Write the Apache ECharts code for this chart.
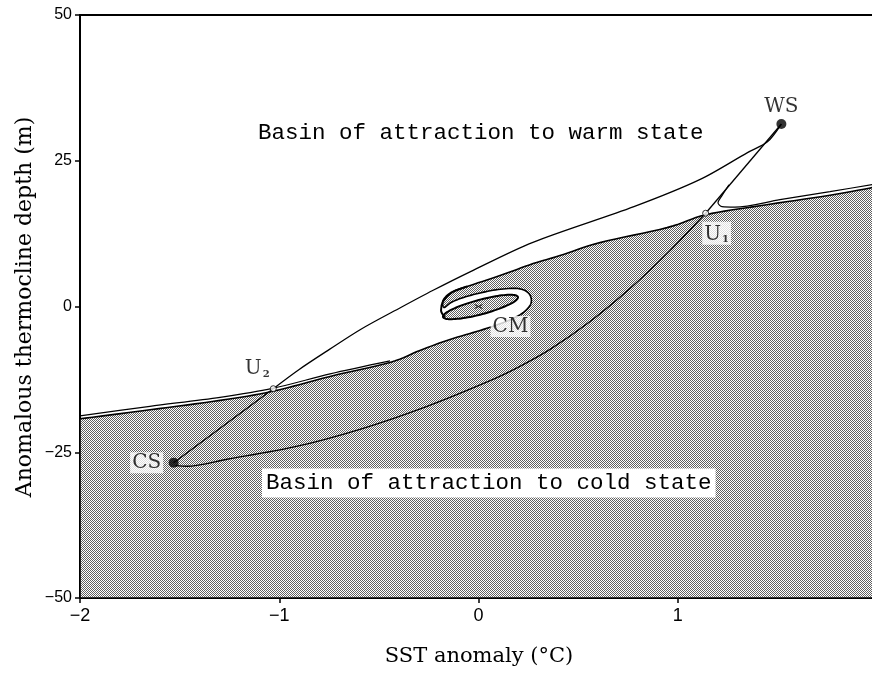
<!DOCTYPE html>
<html>
<head>
<meta charset="utf-8">
<script src="https://cdn.jsdelivr.net/npm/echarts@6/dist/echarts.min.js"></script>
<style>
  html, body { margin: 0; padding: 0; background: #fff; overflow: hidden; }
  #chart { width: 872px; height: 673px; }
</style>
</head>
<body>
<div id="chart"></div>
<script>
// ---- axis ticks ----
const xTicks = [-2, -1, 0, 1];
const yTicks = [-50, -25, 0, 25, 50];

// ---- fixed points of the model (SST anomaly degC, thermocline depth m) ----
const fixedNames = ['WS', 'U1', 'CM', 'U2', 'CS'];
const fixedX = [1.52, 1.14, 0.0, -1.03, -1.53];
const fixedY = [31.3, 16.0, 0.0, -14.1, -26.8];

// ---- separatrix bounding the cold-state basin (left edge -> spiral -> right edge) ----
const coldEdge = [
  [-2.0, -19.26], [-1.649, -17.72], [-1.297, -16.10], [-1.033, -14.55],
  [-0.745, -11.99], [-0.444, -9.59], [-0.294, -7.53], [-0.143, -5.65],
  [0.008, -4.11], [0.133, -2.65], [0.218, -1.20], [0.263, 0.51],
  [0.253, 2.23], [0.198, 3.08], [0.098, 2.91], [-0.003, 2.23],
  [-0.083, 1.46], [-0.138, 0.68], [-0.173, -0.17], [-0.178, 1.03],
  [-0.138, 2.40], [-0.058, 3.42], [0.108, 5.31], [0.274, 7.36],
  [0.409, 8.73], [0.610, 10.96], [0.946, 13.53], [1.142, 15.75],
  [1.413, 17.29], [1.764, 19.09], [2.0, 20.55]
];
// upper trace of the double separatrix line, left of the spiral
const sepUpper = [
  [-2.0, -18.75], [-1.649, -17.12], [-1.297, -15.58], [-1.033, -14.05],
  [-0.745, -11.56], [-0.444, -9.33]
];
// outer arm curling down round the left end of the loop
const outerCurl = [
  [-0.058, 3.42], [-0.133, 2.40], [-0.178, 0.86], [-0.188, -0.68], [-0.168, -1.88]
];
// closed loop around CM
const loopCM = [
  [0.198, 1.63], [0.178, 0.80], [0.112, -0.27], [0.020, -1.30],
  [-0.076, -1.99], [-0.149, -2.17], [-0.178, -1.80], [-0.158, -0.98],
  [-0.092, 0.10], [0.001, 1.11], [0.096, 1.82], [0.169, 2.00]
];

// ---- trajectories ----
const pathU2toWS = [
  [-1.03, -14.1], [-0.90, -10.8], [-0.75, -7.4], [-0.59, -3.9],
  [-0.39, -0.17], [-0.23, 2.74], [-0.04, 5.99], [0.27, 10.96],
  [0.78, 17.12], [1.11, 21.75], [1.35, 26.4], [1.45, 28.25], [1.52, 31.3]
];
const pathWStoU1 = [[1.52, 31.3], [1.14, 16.0]];
const pathHook = [
  [1.257, 20.89], [1.222, 19.01], [1.202, 17.81], [1.222, 17.12],
  [1.287, 17.04], [1.513, 18.32], [1.764, 19.69], [2.0, 21.06]
];
const pathU2toCS = [[-1.03, -14.1], [-1.53, -26.8]];
const pathU1toCS = [
  [1.14, 16.0], [0.961, 9.59], [0.760, 3.08], [0.560, -2.57],
  [0.359, -7.36], [0.208, -10.27], [0.073, -12.50], [-0.258, -17.12],
  [-0.595, -21.06], [-0.931, -24.14], [-1.262, -26.20], [-1.463, -27.40],
  [-1.52, -27.3]
];

// ---- text ----
const xTitle = 'SST anomaly (°C)';
const yTitle = 'Anomalous thermocline depth (m)';
const warmText = 'Basin of attraction to warm state';
const coldText = 'Basin of attraction to cold state';

// fine dot screen for the cold basin
const screen = document.createElement('canvas');
screen.width = 2; screen.height = 2;
const sctx = screen.getContext('2d');
sctx.fillStyle = '#ffffff'; sctx.fillRect(0, 0, 2, 2);
sctx.fillStyle = '#606060'; sctx.fillRect(0, 0, 1, 1); sctx.fillRect(1, 1, 1, 1);
const screenFill = { image: screen, repeat: 'repeat' };

const serif = 'DejaVu Serif';
const sans = 'Liberation Sans';
const minus = v => String(v).replace('-', '\u2212');

// Catmull-Rom through screen points, for smooth filled outlines
function spline(pts, closed) {
  const out = [];
  const n = pts.length;
  const get = i => closed ? pts[(i + n) % n] : pts[Math.max(0, Math.min(n - 1, i))];
  const segs = closed ? n : n - 1;
  for (let i = 0; i < segs; i++) {
    const p0 = get(i - 1), p1 = get(i), p2 = get(i + 1), p3 = get(i + 2);
    for (let k = 0; k < 8; k++) {
      const t = k / 8, t2 = t * t, t3 = t2 * t;
      out.push([0, 1].map(d => 0.5 * (2 * p1[d] + (-p0[d] + p2[d]) * t +
        (2 * p0[d] - 5 * p1[d] + 4 * p2[d] - p3[d]) * t2 +
        (-p0[d] + 3 * p1[d] - 3 * p2[d] + p3[d]) * t3)));
    }
  }
  if (!closed) out.push(pts[n - 1]);
  return out;
}

function curve(data, width, z, smooth) {
  return {
    type: 'line', data, z: z || 3, smooth: smooth === undefined ? 0.3 : smooth,
    symbol: 'none', silent: true,
    lineStyle: { color: '#000', width: width }
  };
}

// label placement for each fixed point
const labelCfg = {
  WS: { text: 'WS', offset: [0, -18] },
  U1: { text: '{m|U}{s|1}', offset: [11, 20] },
  CM: { text: 'CM', offset: [32, 20] },
  U2: { text: '{m|U}{s|2}', offset: [-16, -21] },
  CS: { text: 'CS', offset: [-27, 0] }
};
const markerCfg = {
  WS: { symbol: 'circle', size: 10, color: '#000', border: '#000', bw: 0 },
  CS: { symbol: 'circle', size: 10, color: '#000', border: '#000', bw: 0 },
  U1: { symbol: 'circle', size: 6, color: '#fff', border: '#000', bw: 1 },
  U2: { symbol: 'circle', size: 6, color: '#fff', border: '#000', bw: 1 },
  CM: { symbol: 'path://M0,0L10,6M10,0L0,6', size: [8, 4], color: 'none', border: '#000', bw: 1.2 }
};

const fixedData = fixedNames.map((n, i) => ({
  name: n,
  value: [fixedX[i], fixedY[i]],
  symbol: markerCfg[n].symbol,
  symbolSize: markerCfg[n].size,
  itemStyle: { color: markerCfg[n].color, borderColor: markerCfg[n].border, borderWidth: markerCfg[n].bw },
  label: { offset: labelCfg[n].offset }
}));

const axisCommon = {
  axisLine: { onZero: false, lineStyle: { color: '#000', width: 2 } },
  axisTick: { length: 5, lineStyle: { color: '#000', width: 1.5 } },
  splitLine: { show: false }
};

const option = {
  animation: false,
  backgroundColor: '#fff',
  grid: {
    left: 80, right: -5, top: 15, bottom: 75, outerBoundsMode: 'none', containLabel: false,
    show: true, borderColor: '#000', borderWidth: 2, backgroundColor: 'transparent'
  },
  xAxis: Object.assign({
    type: 'value', min: -2, max: 2, interval: 1,
    axisLabel: {
      margin: 9, color: '#000', fontFamily: sans, fontSize: 18,
      formatter: v => xTicks.indexOf(v) >= 0 ? minus(v) : ''
    }
  }, axisCommon),
  yAxis: Object.assign({
    type: 'value', min: -50, max: 50, interval: 25,
    axisLabel: {
      margin: 8, color: '#000', fontFamily: sans, fontSize: 16,
      formatter: v => yTicks.indexOf(v) >= 0 ? minus(v) : ''
    }
  }, axisCommon),
  graphic: [
    { type: 'text', x: 25, y: 307, rotation: Math.PI / 2, z: 10,
      style: { text: yTitle, font: '22px "' + serif + '"', fill: '#000', align: 'center', verticalAlign: 'middle' } },
    { type: 'text', x: 479, y: 657, z: 10,
      style: { text: xTitle, font: '21px "' + serif + '"', fill: '#000', align: 'center', verticalAlign: 'middle' } },
    { type: 'text', x: 258, y: 133, z: 10,
      style: { text: warmText, font: '22.5px "Liberation Mono"', fill: '#000', align: 'left', verticalAlign: 'middle' } },
    { type: 'text', x: 262, y: 483, z: 10,
      style: { text: coldText, font: '22.5px "Liberation Mono"', fill: '#000', align: 'left', verticalAlign: 'middle',
               backgroundColor: '#fff', padding: [3, 4, 3, 4] } }
  ],
  series: [
    // cold-state basin, shaded below the separatrix
    {
      type: 'custom', coordinateSystem: 'cartesian2d', data: [0], z: 1, silent: true, clip: true,
      renderItem: (params, api) => {
        const edge = spline(coldEdge.map(p => api.coord(p)), false);
        const br = api.coord([2, -50]), bl = api.coord([-2, -50]);
        return {
          type: 'polygon',
          shape: { points: edge.concat([br, bl]) },
          style: { fill: screenFill, stroke: '#000', lineWidth: 1.6, lineJoin: 'round' }
        };
      }
    },
    // loop around CM
    {
      type: 'custom', coordinateSystem: 'cartesian2d', data: [0], z: 2, silent: true,
      renderItem: (params, api) => ({
        type: 'polygon',
        shape: { points: spline(loopCM.map(p => api.coord(p)), true) },
        style: { fill: screenFill, stroke: '#000', lineWidth: 2 }
      })
    },
    curve(sepUpper, 1.2),
    curve(outerCurl, 2),
    curve(pathU2toWS, 1.3),
    curve(pathWStoU1, 1.3, 3, false),
    curve(pathHook, 1.2),
    curve(pathU2toCS, 1.3, 3, false),
    curve(pathU1toCS, 1.3),
    {
      type: 'scatter', data: fixedData, z: 6, silent: true,
      label: {
        show: true, position: 'inside', color: '#000',
        fontFamily: serif, fontSize: 20,
        backgroundColor: '#fff', padding: [1, 2, 0, 2],
        formatter: p => labelCfg[p.name].text,
        rich: {
          m: { fontFamily: serif, fontSize: 20, color: '#000', verticalAlign: 'bottom', lineHeight: 22 },
          s: { fontFamily: serif, fontSize: 10, fontWeight: 'bold', color: '#000', verticalAlign: 'bottom', lineHeight: 14, padding: [0, 0, 0, 1] }
        }
      }
    }
  ]
};

const chart = echarts.init(document.getElementById('chart'));
chart.setOption(option);
</script>
</body>
</html>
